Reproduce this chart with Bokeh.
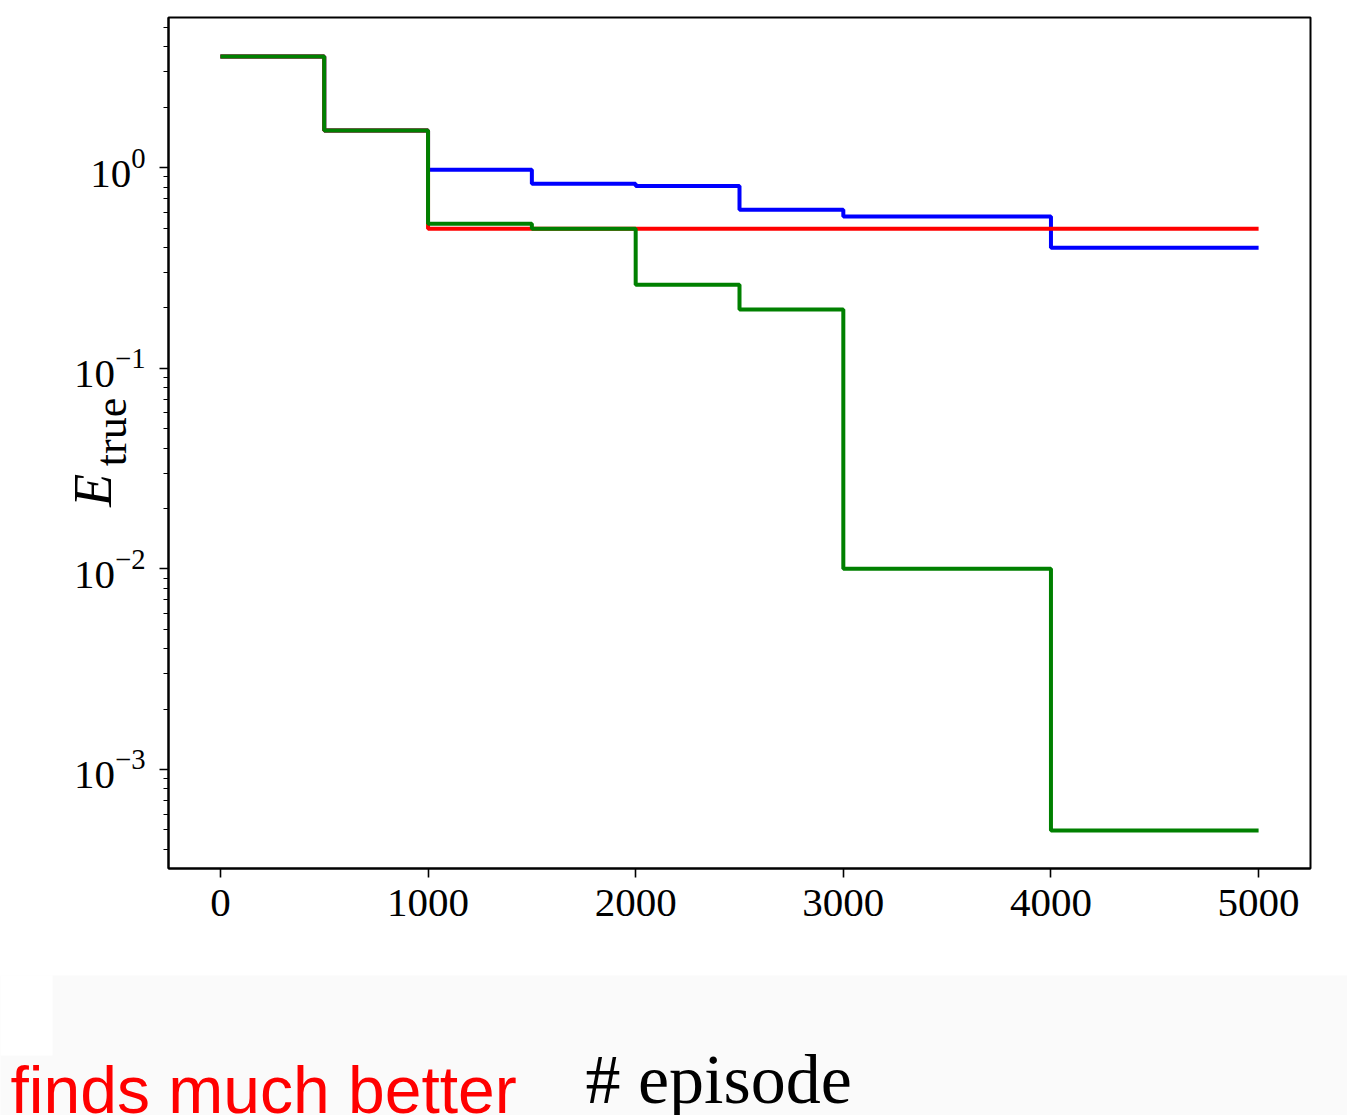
import math
from bokeh.plotting import figure
from bokeh.layouts import column
from bokeh.models import Range1d, FixedTicker, LinearAxis, LogTickFormatter
from bokeh.core.properties import value
from bokeh.embed import file_html
from bokeh.resources import INLINE

# ---- data ----
episodes = [0, 500, 1000, 1500, 2000, 2500, 3000, 4000, 5000]
e_blue = [3.58, 1.53, 0.977, 0.832, 0.81, 0.617, 0.57, 0.399, 0.399]
e_red = [3.58, 1.53, 0.496, 0.496, 0.496, 0.496, 0.496, 0.496, 0.496]
e_green = [3.58, 1.53, 0.525, 0.496, 0.261, 0.196, 0.0100, 0.000497, 0.000497]
x_ticks = [0, 1000, 2000, 3000, 4000, 5000]
y_major = [1e-3, 1e-2, 1e-1, 1.0]
x_label = "# episode"
y_label_main = "E"
y_label_sub = "true"
note = "finds much better"

Y_LO, Y_HI = 3.21e-4, 5.6
y_minor = [k * 10.0 ** e for e in range(-4, 1) for k in range(2, 10)]
y_minor = [v for v in y_minor if Y_LO <= v <= Y_HI]

W = 1347
H_MAIN = 975
H_BAND = 140
NBSP = "\u00a0"

p = figure(width=W, height=H_MAIN, y_axis_type="log",
           x_range=Range1d(-250, 5250), y_range=Range1d(Y_LO, Y_HI),
           output_backend="svg", toolbar_location=None,
           min_border_left=168, min_border_right=37,
           min_border_top=17, min_border_bottom=H_MAIN - 868)
p.frame_align = False

p.background_fill_color = "white"
p.border_fill_color = "white"
p.grid.visible = False
p.outline_line_color = "black"
p.outline_line_width = 2

for ax in (p.xaxis[0], p.yaxis[0]):
    ax.axis_line_color = "black"
    ax.axis_line_width = 2
    ax.major_tick_line_color = "black"
    ax.major_tick_line_width = 1.6
    ax.minor_tick_line_color = "black"
    ax.minor_tick_line_width = 1.2
    ax.major_tick_in = 0
    ax.major_tick_out = 9
    ax.minor_tick_in = 0
    ax.minor_tick_out = 5
    ax.major_label_text_font = "Liberation Serif"
    ax.major_label_text_font_size = "41px"
    ax.major_label_text_color = "black"

p.xaxis.ticker = FixedTicker(ticks=x_ticks, minor_ticks=[])
p.xaxis.major_label_standoff = 12
p.xaxis.axis_label = None

p.yaxis.ticker = FixedTicker(ticks=y_major, minor_ticks=y_minor)
p.yaxis.formatter = LogTickFormatter()
p.yaxis.major_label_standoff = 14

# y label: italic E on the main axis, subscript "true" on a bare extra axis
p.yaxis.axis_label = y_label_main + NBSP * 7
p.yaxis.axis_label_text_font = "Liberation Serif"
p.yaxis.axis_label_text_font_style = "italic"
p.yaxis.axis_label_text_font_size = "54px"
p.yaxis.axis_label_text_color = "black"
p.yaxis.axis_label_standoff = -52

p.extra_y_ranges = {"lab": Range1d(0, 1)}
sub_ax = LinearAxis(y_range_name="lab", ticker=FixedTicker(ticks=[]),
                    axis_line_color=None, major_tick_line_color=None,
                    minor_tick_line_color=None,
                    axis_label=NBSP * 2 + y_label_sub,
                    axis_label_text_font="Liberation Serif",
                    axis_label_text_font_style="normal",
                    axis_label_text_font_size="44px",
                    axis_label_text_color="black",
                    axis_label_standoff=-76)
p.add_layout(sub_ax, "left")

# step lines
p.step(episodes, e_blue, mode="after", line_color="#0000ff", line_width=4)
p.step(episodes, e_red, mode="after", line_color="#ff0000", line_width=4)
p.step(episodes, e_green, mode="after", line_color="#008000", line_width=4)

# ---- light gray slide band below the chart ----
b = figure(width=W, height=H_BAND, x_range=Range1d(0, W), y_range=Range1d(0, H_BAND),
           output_backend="svg", toolbar_location=None,
           x_axis_location=None, y_axis_location=None,
           min_border=0)
b.frame_align = False
b.grid.visible = False
b.outline_line_color = None
b.background_fill_color = "#fafafa"
b.border_fill_color = "#fafafa"
b.quad(left=[0], right=[52], bottom=[H_BAND - 80], top=[H_BAND + 5],
       fill_color="white", line_color=None)
b.text(x=[585], y=[36], text=[x_label], text_font=value("Liberation Serif"),
       text_font_size="70px", text_color="black", text_baseline="alphabetic",
       text_align="left")
b.text(x=[10], y=[26], text=[note], text_font=value("Liberation Sans"),
       text_font_size="66px", text_color="#ff0000", text_baseline="alphabetic",
       text_align="left")

layout = column(p, b, spacing=0)
open("out.html", "w").write(file_html(layout, INLINE))
